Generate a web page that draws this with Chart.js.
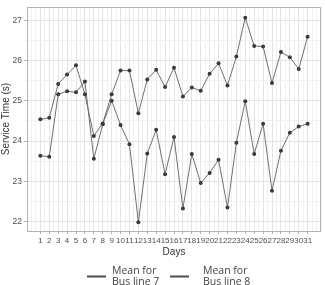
<!DOCTYPE html>
<html>
<head>
<meta charset="utf-8">
<script src="https://cdn.jsdelivr.net/npm/chart.js@4.4.0/dist/chart.umd.min.js"></script>
<style>
  html, body { margin: 0; padding: 0; background: #fff; }
  #wrap { width: 325px; height: 285px; }
</style>
</head>
<body>
<div id="wrap"><canvas id="chart" width="325" height="285"></canvas></div>
<script>
// data
const days = [1,2,3,4,5,6,7,8,9,10,11,12,13,14,15,16,17,18,19,20,21,22,23,24,25,26,27,28,29,30,31];
const line7 = [24.54,24.58,25.42,25.65,25.88,25.16,24.13,24.44,25.16,25.75,25.75,24.69,25.53,25.77,25.34,25.82,
               25.11,25.33,25.25,25.67,25.93,25.38,26.10,27.06,26.36,26.35,25.44,26.21,26.08,25.79,26.59];
const line8 = [23.64,23.61,25.16,25.24,25.21,25.48,23.56,24.42,25.00,24.40,23.92,21.99,23.69,24.28,23.18,24.10,
               22.33,23.68,22.96,23.21,23.54,22.35,23.96,24.99,23.68,24.43,22.77,23.76,24.21,24.36,24.43];
const yTicks = [22,23,24,25,26,27];
const seriesNames = ['Mean for\nBus line 7', 'Mean for\nBus line 8'];

const lineCol = '#707070';
const pointCol = '#3a3a3a';

function toPoints(vals) {
    return vals.map((v, i) => ({ x: days[i], y: v }));
}

// ticks every half unit, only integers get labels (ggplot minor grid look)
function halfTicks(from, to) {
    let out = [];
    for (let v = from; v <= to + 1e-9; v += 0.5) out.push({ value: v });
    return out;
}
function isMajorX(v) { return Number.isInteger(v) && days.includes(v); }
function isMajorY(v) { return yTicks.includes(v); }

// panel border + legend drawn by hand
const extras = {
    id: 'extras',
    afterDraw(chart) {
        const ctx = chart.ctx;
        const a = chart.chartArea;
        ctx.save();
        ctx.strokeStyle = '#b3b3b3';
        ctx.lineWidth = 1;
        ctx.strokeRect(Math.round(a.left) + 0.5, Math.round(a.top) + 0.5,
                       Math.round(a.right - a.left) - 1, Math.round(a.bottom - a.top));

        // legend
        const keys = [87, 170];
        const textX = [112, 203];
        ctx.font = '10.5px "Open Sans"';
        ctx.fillStyle = '#444';
        ctx.textBaseline = 'middle';
        chart.data.datasets.forEach((ds, i) => {
            const x = keys[i];
            ctx.strokeStyle = '#4d4d4d';
            ctx.lineWidth = 2;
            ctx.beginPath();
            ctx.moveTo(x, 276.5);
            ctx.lineTo(x + 19, 276.5);
            ctx.stroke();
            ds.label.split('\n').forEach((t, j) => {
                ctx.fillText(t, textX[i], 271 + j * 11.5);
            });
        });
        ctx.restore();
    }
};

const ctx = document.getElementById('chart').getContext('2d');
const myChart = new Chart(ctx, {
    type: 'line',
    data: {
        datasets: [
            { label: seriesNames[0], data: toPoints(line7) },
            { label: seriesNames[1], data: toPoints(line8) }
        ]
    },
    options: {
        responsive: false,
        animation: false,
        layout: { padding: { left: 0, right: 2, top: 5, bottom: 27 } },
        elements: {
            line: { borderColor: lineCol, borderWidth: 1, tension: 0 },
            point: { radius: 2, backgroundColor: pointCol, borderWidth: 0 }
        },
        plugins: {
            legend: { display: false },
            tooltip: { enabled: false }
        },
        scales: {
            x: {
                type: 'linear',
                min: -0.5,
                max: 32.5,
                afterBuildTicks: (s) => { s.ticks = halfTicks(-0.5, 32.5); },
                afterFit: (s) => { s.height = 27; },
                border: { display: false },
                grid: {
                    color: (c) => isMajorX(c.tick.value) ? '#e3e3e3' : '#f1f1f1',
                    tickColor: (c) => isMajorX(c.tick.value) ? '#b3b3b3' : 'rgba(0,0,0,0)',
                    tickLength: 3,
                    lineWidth: 1
                },
                ticks: {
                    autoSkip: false,
                    maxRotation: 0,
                    minRotation: 0,
                    padding: 2,
                    color: '#4d4d4d',
                    font: { family: 'Liberation Sans', size: 8 },
                    callback: (v) => isMajorX(v) ? String(v) : ''
                },
                title: {
                    display: true,
                    text: 'Days',
                    color: '#333',
                    padding: 0,
                    font: { family: 'Liberation Sans', size: 10 }
                }
            },
            y: {
                min: 21.77,
                max: 27.325,
                afterBuildTicks: (s) => { s.ticks = halfTicks(22, 27); },
                afterFit: (s) => { s.width = 27; },
                border: { display: false },
                grid: {
                    color: (c) => isMajorY(c.tick.value) ? '#e3e3e3' : '#f1f1f1',
                    tickColor: (c) => isMajorY(c.tick.value) ? '#b3b3b3' : 'rgba(0,0,0,0)',
                    tickLength: 3
                },
                ticks: {
                    autoSkip: false,
                    padding: 2,
                    color: '#4d4d4d',
                    font: { family: 'Liberation Sans', size: 8.5 },
                    callback: (v) => isMajorY(v) ? String(v) : ''
                },
                title: {
                    display: true,
                    text: 'Service Time (s)',
                    color: '#333',
                    padding: 0,
                    font: { family: 'Liberation Sans', size: 10 }
                }
            }
        }
    },
    plugins: [extras]
});
</script>
</body>
</html>
